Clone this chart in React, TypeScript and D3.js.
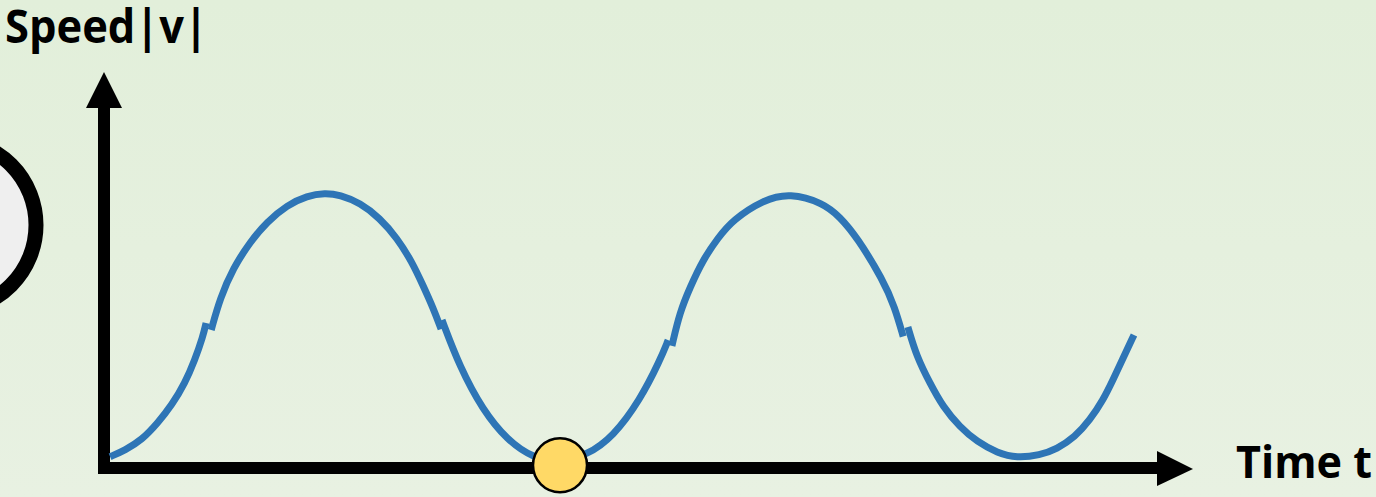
import React, { useRef, useEffect } from "react";
import * as d3 from "d3";

// speed |v|, one array per drawn stroke (the original has small seams)
const seg1Time = [0.13, 0.45, 0.81, 1.15, 1.45, 1.73, 1.94, 2.11, 2.18];
const seg1Speed = [0.041, 0.065, 0.102, 0.164, 0.229, 0.309, 0.393, 0.476, 0.527];

const seg2Time = [2.29, 2.48, 2.76, 3.12, 3.48, 3.91, 4.34, 4.72, 5.04, 5.47, 5.89, 6.26, 6.58, 6.81, 7.03, 7.2];
const seg2Speed = [0.502, 0.618, 0.727, 0.822, 0.895, 0.956, 0.99, 1.0, 0.993, 0.964, 0.909, 0.836, 0.749, 0.665, 0.582, 0.505];

const seg3Time = [7.22, 7.6, 8.09, 8.61, 9.16, 9.74, 10.32, 10.87, 11.45, 11.88, 12.05];
const seg3Speed = [0.538, 0.367, 0.211, 0.102, 0.036, 0.022, 0.047, 0.113, 0.247, 0.393, 0.465];

const seg4Time = [12.13, 12.3, 12.52, 12.79, 13.11, 13.43, 14.08, 14.65, 15.36, 15.72, 16.08, 16.64, 16.89, 17.07];
const seg4Speed = [0.444, 0.567, 0.658, 0.756, 0.836, 0.902, 0.975, 1.0, 0.964, 0.913, 0.84, 0.684, 0.585, 0.478];

const seg5Time = [17.17, 17.36, 17.64, 17.92, 18.28, 18.65, 19.08, 19.5, 19.99, 20.35, 20.74, 21.06, 21.34, 21.55, 21.78, 22.0];
const seg5Speed = [0.513, 0.404, 0.309, 0.222, 0.149, 0.095, 0.055, 0.036, 0.047, 0.069, 0.113, 0.175, 0.247, 0.32, 0.404, 0.484];

const markerTime = [9.74];
const markerSpeed = [0.01];

const yLabel = "Speed|v|";
const xLabel = "Time t";

const W = 1376;
const H = 497;

export default function App() {
  const svgRef = useRef<SVGSVGElement>(null);

  useEffect(() => {
    const svg = d3.select(svgRef.current);
    svg.selectAll("*").remove();

    const x = d3.scaleLinear().domain([0, 22]).range([104, 1134]);
    const y = d3.scaleLinear().domain([0, 1]).range([468, 193]);

    const defs = svg.append("defs");
    const grad = defs
      .append("linearGradient")
      .attr("id", "bg")
      .attr("x1", 0)
      .attr("y1", 0)
      .attr("x2", 0)
      .attr("y2", 1);
    grad.append("stop").attr("offset", "0%").attr("stop-color", "#e2efda");
    grad.append("stop").attr("offset", "100%").attr("stop-color", "#e8f1e2");

    svg.append("rect").attr("width", W).attr("height", H).attr("fill", "url(#bg)");

    // partial wheel at the left edge
    svg
      .append("circle")
      .attr("cx", -49)
      .attr("cy", 225)
      .attr("r", 85)
      .attr("fill", "#efefef")
      .attr("stroke", "#000")
      .attr("stroke-width", 15);

    // axes
    const ox = x(0);
    const oy = y(0);
    const axisW = 12;
    svg
      .append("rect")
      .attr("x", ox - axisW / 2)
      .attr("y", 106)
      .attr("width", axisW)
      .attr("height", oy + axisW / 2 - 106)
      .attr("fill", "#000");
    svg
      .append("path")
      .attr("d", `M${ox - 18},108 L${ox + 18},108 L${ox},72 Z`)
      .attr("fill", "#000");

    svg
      .append("rect")
      .attr("x", ox - axisW / 2)
      .attr("y", oy - axisW / 2)
      .attr("width", 1159 - (ox - axisW / 2))
      .attr("height", axisW)
      .attr("fill", "#000");
    svg
      .append("path")
      .attr("d", `M1157,${oy - 17} L1157,${oy + 18} L1193,${oy + 1} Z`)
      .attr("fill", "#000");

    // curve
    const segs = [
      [seg1Time, seg1Speed],
      [seg2Time, seg2Speed],
      [seg3Time, seg3Speed],
      [seg4Time, seg4Speed],
      [seg5Time, seg5Speed],
    ];
    const line = d3
      .line<[number, number]>()
      .x((d) => x(d[0]))
      .y((d) => y(d[1]))
      .curve(d3.curveBasis);

    segs.forEach(([ts, vs]) => {
      const pts = ts.map((t, i) => [t, vs[i]] as [number, number]);
      svg
        .append("path")
        .attr("d", line(pts))
        .attr("fill", "none")
        .attr("stroke", "#2e75b6")
        .attr("stroke-width", 7);
    });

    // marker
    svg
      .selectAll("circle.marker")
      .data(markerTime)
      .enter()
      .append("circle")
      .attr("class", "marker")
      .attr("cx", (d) => x(d))
      .attr("cy", (d, i) => y(markerSpeed[i]))
      .attr("r", 27)
      .attr("fill", "#ffd966")
      .attr("stroke", "#000")
      .attr("stroke-width", 2.5);

    // labels
    svg
      .append("text")
      .attr("x", 5)
      .attr("y", 43)
      .attr("font-family", "'Open Sans', sans-serif")
      .attr("font-weight", "bold")
      .attr("font-size", 46)
      .attr("textLength", 203)
      .attr("lengthAdjust", "spacingAndGlyphs")
      .attr("fill", "#000")
      .text(yLabel);

    svg
      .append("text")
      .attr("x", 1236)
      .attr("y", 478)
      .attr("font-family", "'Open Sans', sans-serif")
      .attr("font-weight", "bold")
      .attr("font-size", 44)
      .attr("textLength", 136)
      .attr("lengthAdjust", "spacingAndGlyphs")
      .attr("fill", "#000")
      .text(xLabel);
  }, []);

  return (
    <div style={{ position: "fixed", left: 0, top: 0 }}>
      <svg ref={svgRef} width={W} height={H} style={{ display: "block" }} />
    </div>
  );
}
